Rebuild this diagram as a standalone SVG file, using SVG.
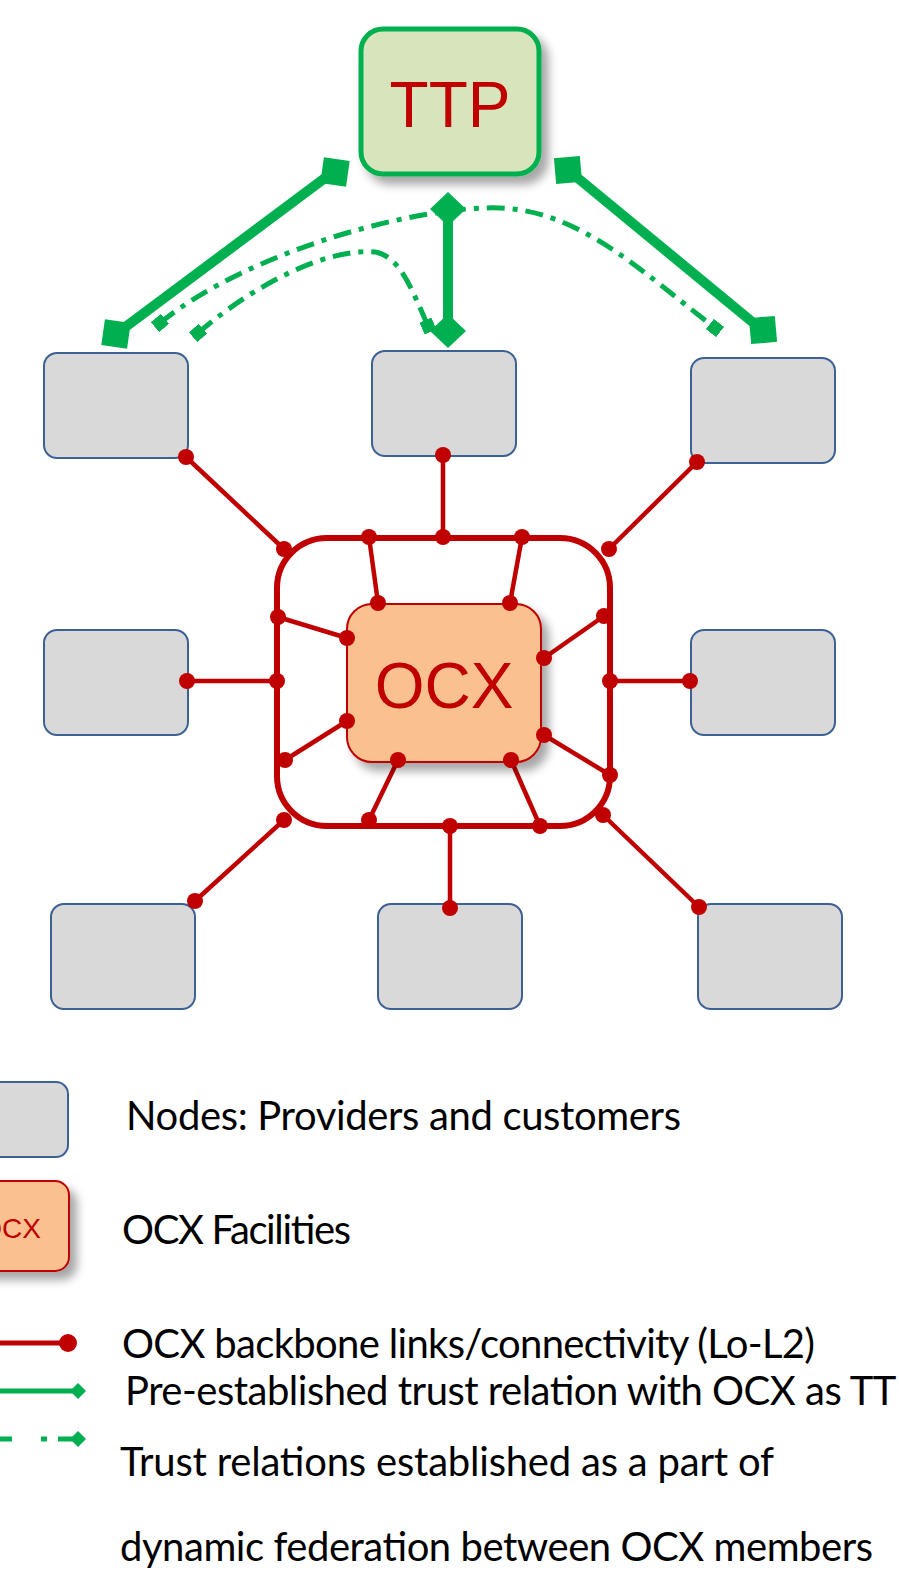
<svg xmlns="http://www.w3.org/2000/svg" width="899" height="1574" viewBox="0 0 899 1574">
<defs>
<style>
.node{fill:#D9D9D9;stroke:#3C6194;stroke-width:2}
.red{stroke:#C00000;stroke-width:4.5;fill:none}
.dot{fill:#C00000}
.gs{stroke:#00B050;stroke-width:10;fill:none}
.gd{stroke:#00B050;stroke-width:5;fill:none;stroke-dasharray:18 8 5 8}
.gf{fill:#00B050}
.lbl{font-family:"Liberation Sans",Arial,sans-serif;fill:#C00000}
.leg{font-family:Lato,"Open Sans",sans-serif;font-size:40px;fill:#000}
</style>
<filter id="sh" x="-20%" y="-20%" width="150%" height="150%">
<feDropShadow dx="7" dy="8" stdDeviation="5" flood-color="#000" flood-opacity="0.35"/>
</filter>
<marker id="sq" viewBox="-6 -6 12 12" markerWidth="2.6" markerHeight="2.6" refX="0" refY="0" orient="auto" markerUnits="strokeWidth">
<rect x="-6" y="-6" width="12" height="12" fill="#00B050"/>
</marker>
</defs>

<g id="connectors">
<g id="backbone-links">
<line class="red" x1="186" y1="457" x2="284" y2="549"/>
<line class="red" x1="443" y1="455" x2="443" y2="537"/>
<line class="red" x1="697" y1="462" x2="609" y2="549"/>
<line class="red" x1="187" y1="681" x2="277" y2="681"/>
<line class="red" x1="690" y1="681" x2="610" y2="681"/>
<line class="red" x1="195" y1="901" x2="284" y2="820"/>
<line class="red" x1="450" y1="908" x2="450" y2="826"/>
<line class="red" x1="699" y1="907" x2="603" y2="815"/>
<line class="red" x1="369" y1="537" x2="378" y2="603"/>
<line class="red" x1="522" y1="537" x2="510" y2="603"/>
<line class="red" x1="278" y1="617" x2="347" y2="638"/>
<line class="red" x1="604" y1="616" x2="544" y2="658"/>
<line class="red" x1="285" y1="760" x2="347" y2="721"/>
<line class="red" x1="610" y1="775" x2="544" y2="735"/>
<line class="red" x1="369" y1="820" x2="398" y2="760"/>
<line class="red" x1="540" y1="826" x2="511" y2="760"/>
</g>
<g id="trust-solid">
<line class="gs" x1="333" y1="172" x2="116" y2="334"/>
<rect class="gf" x="-13" y="-13" width="26" height="26" transform="translate(335,172) rotate(8)"/>
<rect class="gf" x="-13" y="-13" width="26" height="26" transform="translate(116,334) rotate(8)"/>
<line class="gs" x1="568" y1="170" x2="762" y2="330"/>
<rect class="gf" x="-13" y="-13" width="26" height="26" transform="translate(568,170) rotate(-5)"/>
<rect class="gf" x="-13" y="-13" width="26" height="26" transform="translate(763,330) rotate(-5)"/>
<line class="gs" x1="448" y1="208" x2="448" y2="328" stroke-width="11"/>
<polygon class="gf" points="448,192 466,209 448,226 430,209"/>
<polygon class="gf" points="448,314 466,331 448,348 430,331"/>
</g>
<g id="trust-dynamic">
<path class="gd" d="M160,323 C250,250 420,205 500,208 C580,211 640,270 715,328" marker-start="url(#sq)" marker-end="url(#sq)"/>
<path class="gd" d="M198,333 C260,280 330,248 375,252 C400,256 412,290 428,326" marker-start="url(#sq)" marker-end="url(#sq)"/>
</g>
</g>

<g id="ocx-ring">
<rect x="277" y="538" width="333" height="288" rx="50" fill="none" stroke="#C00000" stroke-width="6"/>
</g>

<g id="ttp">
<rect x="361" y="29" width="178" height="145" rx="22" fill="#D8E4BC" stroke="#00B050" stroke-width="5" filter="url(#sh)"/>
<text class="lbl" x="450" y="127" font-size="64" text-anchor="middle">TTP</text>
</g>

<g id="ocx">
<rect x="347" y="604" width="194" height="158" rx="25" fill="#FAC090" stroke="#C00000" stroke-width="2" filter="url(#sh)"/>
<text class="lbl" x="444" y="708" font-size="64" text-anchor="middle">OCX</text>
</g>

<g id="node-1"><rect class="node" x="44" y="353" width="144" height="105" rx="13"/></g>
<g id="node-2"><rect class="node" x="372" y="351" width="144" height="105" rx="13"/></g>
<g id="node-3"><rect class="node" x="691" y="358" width="144" height="105" rx="13"/></g>
<g id="node-4"><rect class="node" x="44" y="630" width="144" height="105" rx="13"/></g>
<g id="node-5"><rect class="node" x="691" y="630" width="144" height="105" rx="13"/></g>
<g id="node-6"><rect class="node" x="51" y="904" width="144" height="105" rx="13"/></g>
<g id="node-7"><rect class="node" x="378" y="904" width="144" height="105" rx="13"/></g>
<g id="node-8"><rect class="node" x="698" y="904" width="144" height="105" rx="13"/></g>

<g id="dots">
<circle class="dot" cx="186" cy="457" r="8"/><circle class="dot" cx="284" cy="549" r="8"/>
<circle class="dot" cx="443" cy="455" r="8"/><circle class="dot" cx="443" cy="537" r="8"/>
<circle class="dot" cx="697" cy="462" r="8"/><circle class="dot" cx="609" cy="549" r="8"/>
<circle class="dot" cx="187" cy="681" r="8"/><circle class="dot" cx="277" cy="681" r="8"/>
<circle class="dot" cx="690" cy="681" r="8"/><circle class="dot" cx="610" cy="681" r="8"/>
<circle class="dot" cx="195" cy="901" r="8"/><circle class="dot" cx="284" cy="820" r="8"/>
<circle class="dot" cx="450" cy="908" r="8"/><circle class="dot" cx="450" cy="826" r="8"/>
<circle class="dot" cx="699" cy="907" r="8"/><circle class="dot" cx="603" cy="815" r="8"/>
<circle class="dot" cx="369" cy="537" r="8"/><circle class="dot" cx="378" cy="603" r="8"/>
<circle class="dot" cx="522" cy="537" r="8"/><circle class="dot" cx="510" cy="603" r="8"/>
<circle class="dot" cx="278" cy="617" r="8"/><circle class="dot" cx="347" cy="638" r="8"/>
<circle class="dot" cx="604" cy="616" r="8"/><circle class="dot" cx="544" cy="658" r="8"/>
<circle class="dot" cx="285" cy="760" r="8"/><circle class="dot" cx="347" cy="721" r="8"/>
<circle class="dot" cx="610" cy="775" r="8"/><circle class="dot" cx="544" cy="735" r="8"/>
<circle class="dot" cx="369" cy="820" r="8"/><circle class="dot" cx="398" cy="760" r="8"/>
<circle class="dot" cx="540" cy="826" r="8"/><circle class="dot" cx="511" cy="760" r="8"/>
</g>

<g id="legend">
<rect class="node" x="-40" y="1082" width="108" height="75" rx="12"/>
<rect x="-40" y="1181" width="109" height="90" rx="14" fill="#FAC090" stroke="#C00000" stroke-width="2" filter="url(#sh)"/>
<text class="lbl" x="41" y="1238" font-size="28" text-anchor="end">OCX</text>
<line x1="0" y1="1343" x2="66" y2="1343" stroke="#C00000" stroke-width="5"/>
<circle class="dot" cx="68" cy="1343" r="9"/>
<line x1="0" y1="1391" x2="74" y2="1391" stroke="#00B050" stroke-width="5"/>
<polygon class="gf" points="78,1383 86,1391 78,1399 70,1391"/>
<line x1="0" y1="1439" x2="12" y2="1439" stroke="#00B050" stroke-width="5"/>
<rect class="gf" x="41" y="1436.5" width="6" height="5"/>
<line x1="58" y1="1439" x2="74" y2="1439" stroke="#00B050" stroke-width="5"/>
<polygon class="gf" points="78,1431 86,1439 78,1447 70,1439"/>
<text class="leg" x="126" y="1130" textLength="555">Nodes: Providers and customers</text>
<text class="leg" x="122" y="1244" textLength="229">OCX Facilities</text>
<text class="leg" x="122" y="1358" textLength="693">OCX backbone links/connectivity (Lo-L2)</text>
<text class="leg" x="125" y="1405" textLength="795">Pre-established trust relation with OCX as TTP</text>
<text class="leg" x="120" y="1476" textLength="654">Trust relations established as a part of</text>
<text class="leg" x="120" y="1561" textLength="753">dynamic federation between OCX members</text>
</g>
</svg>
